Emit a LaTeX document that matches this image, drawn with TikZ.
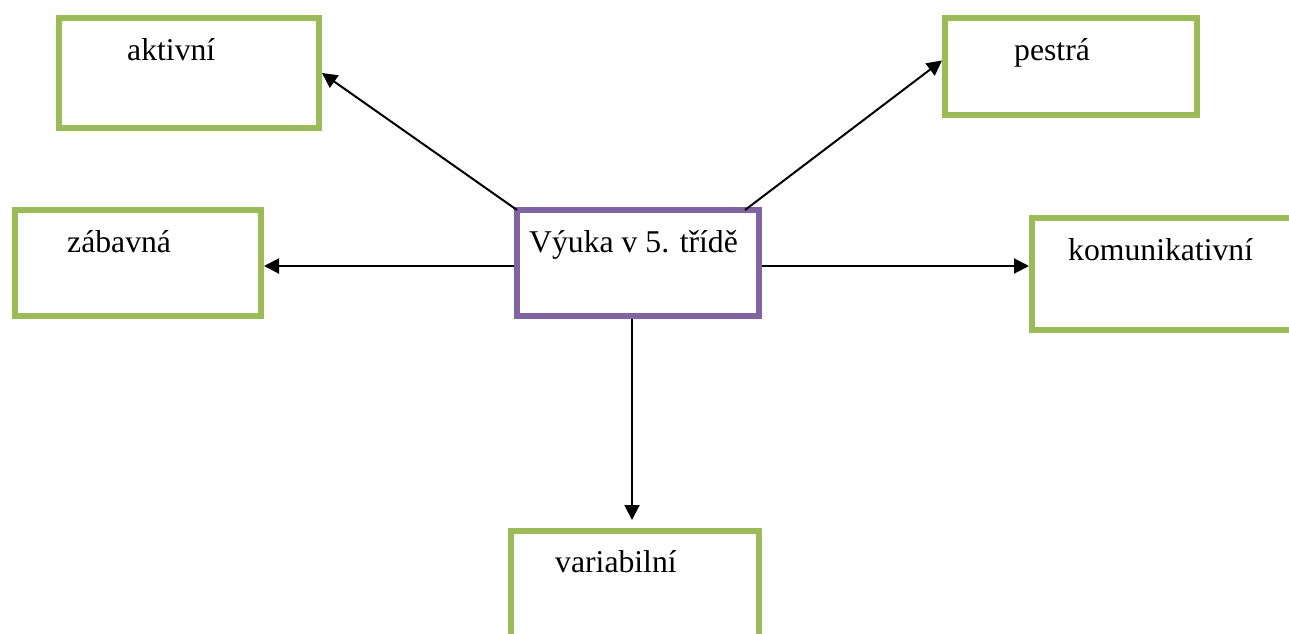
\documentclass[tikz,border=0pt]{standalone}
\usepackage{fontspec}
\setmainfont{Liberation Serif}
\usetikzlibrary{arrows.meta}
\definecolor{boxgreen}{RGB}{155,187,89}
\definecolor{boxpurple}{RGB}{128,100,162}
\tikzset{
  gbox/.style={draw=boxgreen, line width=6pt, rectangle, inner sep=0pt},
  pbox/.style={draw=boxpurple, line width=6pt, rectangle, inner sep=0pt},
  lbl/.style={anchor=base west, inner sep=0pt, font=\fontsize{31.7}{38}\selectfont},
  conn/.style={line width=2pt, -{Triangle[length=15pt,width=15pt]}}
}
\begin{document}
\begin{tikzpicture}[x=1pt,y=-1pt]
\clip (0,0) rectangle (1289,633);
\fill[white] (0,0) rectangle (1289,633);
% boxes
\node[gbox, minimum width=260pt, minimum height=110pt] (a) at (189,73) {};
\node[gbox, minimum width=246pt, minimum height=106pt] (z) at (138,263) {};
\node[pbox, minimum width=242pt, minimum height=106pt] (c) at (638,263) {};
\node[gbox, minimum width=252pt, minimum height=97pt] (p) at (1071,66.5) {};
\node[gbox, minimum width=268pt, minimum height=112pt] (k) at (1166,274) {};
\node[gbox, minimum width=248pt, minimum height=110pt] (v) at (635,586) {};
% labels
\node[lbl] (ta) at (127,60) {aktivní};
\node[lbl] (tz) at (67,252) {zábavná};
\node[lbl] (tc) at (529,252) {Výuka v 5. třídě};
\node[lbl] (tp) at (1014,60) {pestrá};
\node[lbl] (tk) at (1068,260) {komunikativní};
\node[lbl] (tv) at (555,572) {variabilní};
% connectors
\draw[conn] ([xshift=3pt,yshift=-3pt]c.north west) -- (a.east);
\draw[conn] ([xshift=-17pt,yshift=-3pt]c.north east) -- ([yshift=6pt]p.west);
\draw[conn] ([yshift=-3pt]c.west) -- ([yshift=-3pt]c.west -| z.east);
\draw[conn] ([yshift=-3pt]c.east) -- ([yshift=-3pt]c.east -| k.west);
\draw[conn] ([xshift=-6pt]c.south) -- ([xshift=-6pt,yshift=8pt]c.south |- v.north);
\end{tikzpicture}
\end{document}
